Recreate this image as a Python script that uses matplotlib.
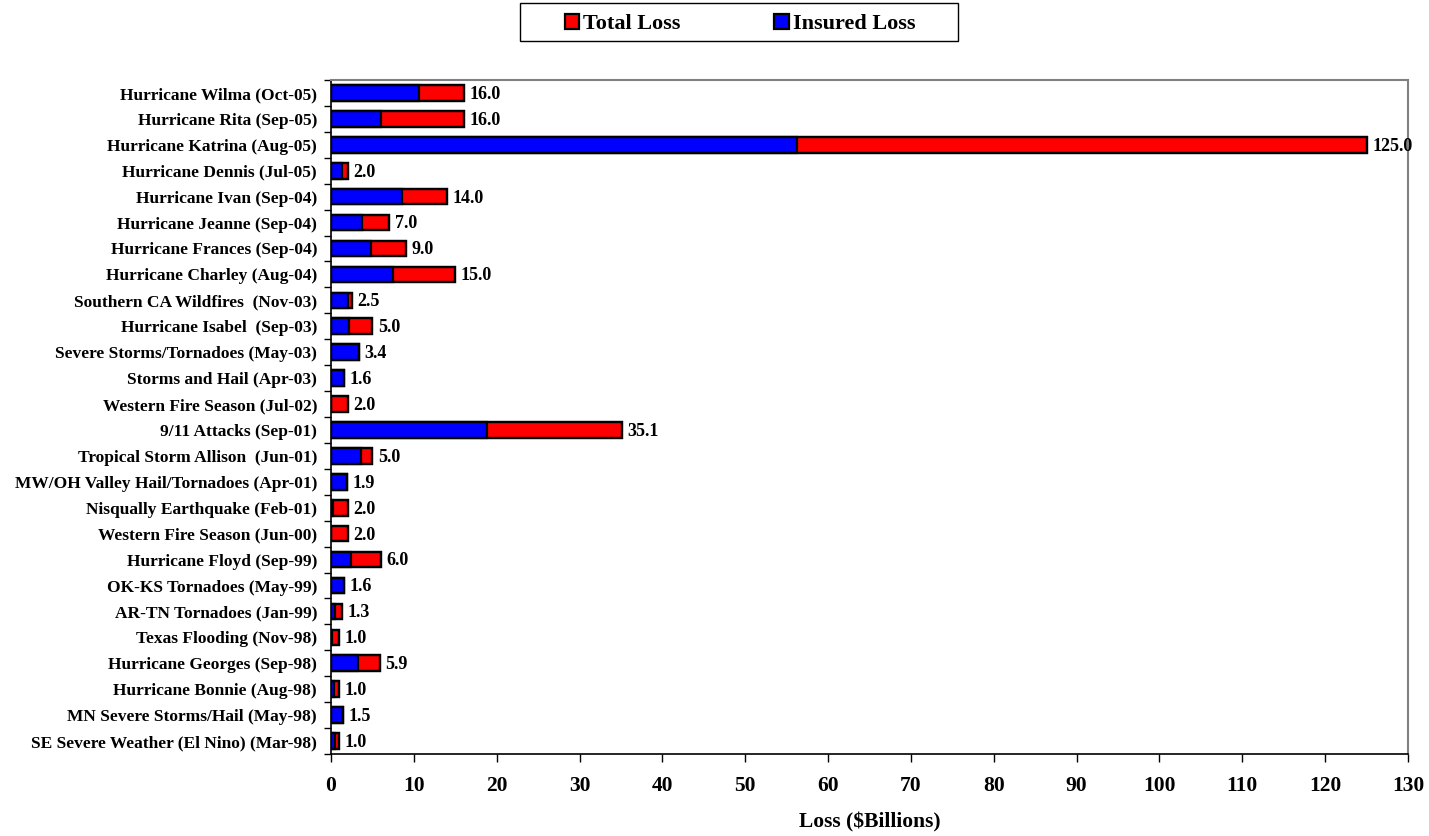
import matplotlib
matplotlib.use('Agg')
import matplotlib.pyplot as plt
from matplotlib.patches import Patch, Rectangle

plt.rcParams['font.family'] = ['Liberation Serif', 'DejaVu Serif']
plt.rcParams['font.weight'] = 'bold'

### data (top to bottom as shown)
events = [
    'Hurricane Wilma (Oct-05)', 'Hurricane Rita (Sep-05)', 'Hurricane Katrina (Aug-05)',
    'Hurricane Dennis (Jul-05)', 'Hurricane Ivan (Sep-04)', 'Hurricane Jeanne (Sep-04)',
    'Hurricane Frances (Sep-04)', 'Hurricane Charley (Aug-04)', 'Southern CA Wildfires  (Nov-03)',
    'Hurricane Isabel  (Sep-03)', 'Severe Storms/Tornadoes (May-03)', 'Storms and Hail (Apr-03)',
    'Western Fire Season (Jul-02)', '9/11 Attacks (Sep-01)', 'Tropical Storm Allison  (Jun-01)',
    'MW/OH Valley Hail/Tornadoes (Apr-01)', 'Nisqually Earthquake (Feb-01)',
    'Western Fire Season (Jun-00)', 'Hurricane Floyd (Sep-99)', 'OK-KS Tornadoes (May-99)',
    'AR-TN Tornadoes (Jan-99)', 'Texas Flooding (Nov-98)', 'Hurricane Georges (Sep-98)',
    'Hurricane Bonnie (Aug-98)', 'MN Severe Storms/Hail (May-98)',
    'SE Severe Weather (El Nino) (Mar-98)',
]
total_loss = [16.0, 16.0, 125.0, 2.0, 14.0, 7.0, 9.0, 15.0, 2.5, 5.0, 3.4, 1.6, 2.0,
              35.1, 5.0, 1.9, 2.0, 2.0, 6.0, 1.6, 1.3, 1.0, 5.9, 1.0, 1.5, 1.0]
insured_loss = [10.6, 6.0, 56.2, 1.3, 8.6, 3.7, 4.8, 7.5, 2.0, 2.2, 3.4, 1.6, 0.0,
                18.8, 3.6, 1.9, 0.3, 0.0, 2.4, 1.6, 0.5, 0.1, 3.2, 0.4, 1.5, 0.5]

W, H = 1429, 836
fig = plt.figure(figsize=(W / 100, H / 100), dpi=100)
ax = fig.add_axes([331 / W, 1 - 754 / H, 1077 / W, 674 / H])

y = list(range(len(events)))
ax.barh(y, total_loss, height=0.6, color='#ff0000', edgecolor='black', linewidth=1.6, zorder=2)
ax.barh(y, insured_loss, height=0.6, color='#0000ff', edgecolor='black', linewidth=1.6, zorder=3)
# outline of the full bar again on top
ax.barh(y, total_loss, height=0.6, color='none', edgecolor='black', linewidth=1.6, zorder=4)

for yi, v in zip(y, total_loss):
    ax.annotate(f'{v:.1f}', (v, yi), xytext=(4, -1), textcoords='offset points',
                va='center', ha='left', fontsize=13, fontweight='bold', zorder=5)

ax.set_ylim(len(events) - 0.5, -0.5)
ax.set_yticks(y)
ax.set_yticklabels(events, fontsize=12.5, fontweight='bold')
ax.set_yticks([i - 0.5 for i in range(len(events) + 1)], minor=True)
ax.tick_params(axis='y', which='major', length=0, pad=10)
ax.tick_params(axis='y', which='minor', length=5, width=1)

ax.set_xlim(0, 130)
ax.set_xticks(range(0, 131, 10))
ax.tick_params(axis='x', length=6, width=1, pad=10, labelsize=15.5)
for lbl in ax.get_xticklabels():
    lbl.set_fontweight('bold')
ax.set_xlabel('Loss ($Billions)', fontsize=15.5, fontweight='bold', labelpad=12)

ax.spines['top'].set_color('#808080')
ax.spines['right'].set_color('#808080')
for s in ['top', 'right']:
    ax.spines[s].set_linewidth(1.5)
for s in ['left', 'bottom']:
    ax.spines[s].set_linewidth(1.2)

### legend (frame drawn separately so it can be wider than tall)
handles = [Patch(facecolor='#ff0000', edgecolor='black', linewidth=1.6, label='Total Loss'),
           Patch(facecolor='#0000ff', edgecolor='black', linewidth=1.6, label='Insured Loss')]
fig.legend(handles=handles, loc='center', bbox_to_anchor=(740 / W, 1 - 24 / H),
           ncol=2, frameon=False, prop={'size': 16, 'weight': 'bold'},
           handlelength=0.65, handleheight=0.65, handletextpad=0.2,
           columnspacing=4.2, borderpad=0, borderaxespad=0)
fig.patches.append(Rectangle((520 / W, 1 - 41 / H), 438 / W, 38 / H, transform=fig.transFigure,
                             facecolor='none', edgecolor='black', linewidth=1.0))

fig.savefig('out.png', dpi=100)
